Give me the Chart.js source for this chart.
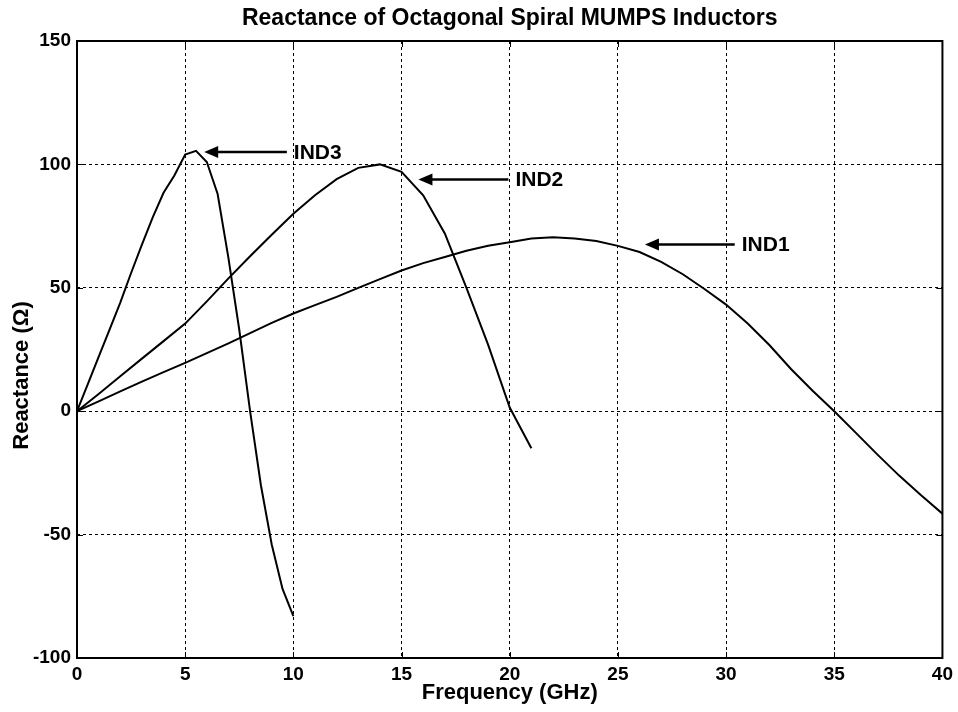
<!DOCTYPE html>
<html>
<head>
<meta charset="utf-8">
<script src="https://cdn.jsdelivr.net/npm/chart.js@4/dist/chart.umd.min.js"></script>
<style>
  html, body { margin: 0; padding: 0; background: #fff; }
  #wrap { width: 958px; height: 712px; }
</style>
</head>
<body>
<div id="wrap"><canvas id="c" width="958" height="712"></canvas></div>
<script>
// Frequency sweeps (GHz) and reactance (ohm) for each inductor
const freqIND1 = [0,1,2,3,4,5,6,7,8,9,10,11,12,13,14,15,16,17,18,19,20,
                  21,22,23,24,25,26,27,28,29,30,31,32,33,34,35,36,37,38,39,40];
const reactIND1 = [0,4,8,12,15.8,19.6,23.5,27.5,31.6,35.8,39.6,43,46.3,50,53.5,57,60,62.5,65,67,68.5,
                   70,70.5,70,69,67,64.5,60.5,55.5,49.5,43.2,35.5,26.8,17.1,8.3,0,-8.8,-17.6,-26.1,-34,-41.5];

const freqIND2 = [0,1,2,3,4,5,6,7,8,9,10,11,12,13,14,15,16,17,18,19,20,21];
const reactIND2 = [0,7,14.2,21.3,28.4,35.5,44.5,53.8,62.8,71.5,80,87.5,94,98.6,100,97,87.5,72,50,27,1.5,-15];

const freqIND3 = [0,0.5,1,1.5,2,2.5,3,3.5,4,4.5,5,5.5,6,6.5,7,7.5,8,8.5,9,9.5,10];
const reactIND3 = [0,11,22,33,44,56,67.5,78.5,88.5,95.5,104,105.5,101,88,62,33,0,-30,-54,-72,-83];

const xTicks = [0,5,10,15,20,25,30,35,40];
const yTicks = [-100,-50,0,50,100,150];

const yAxisLabel = 'Reactance (Ω)';

// Arrow callouts: label, arrow tip (x,y) and tail x, in data units
const calloutNames = ['IND3','IND2','IND1'];
const calloutTipX  = [5.88, 15.78, 26.25];
const calloutTipY  = [105, 93.9, 67.5];
const calloutTailX = [9.7, 19.94, 30.4];

const FONT = '"Liberation Sans", Arial, Helvetica, sans-serif';

function pts(xs, ys) { return xs.map((x, i) => ({ x: x, y: ys[i] })); }

const lineStyle = { borderColor: '#000', borderWidth: 2, pointRadius: 0, fill: false, tension: 0 };

// Box around the axes, inward tick marks, y-axis label and arrow callouts
const decor = {
  id: 'decor',
  afterDatasetsDraw(chart) {
    const ctx = chart.ctx, a = chart.chartArea;
    const xs = chart.scales.x, ys = chart.scales.y;
    ctx.save();
    ctx.strokeStyle = '#000';
    ctx.lineWidth = 1;
    ctx.setLineDash([]);
    // inward ticks
    ctx.beginPath();
    xTicks.forEach(v => {
      const px = Math.round(xs.getPixelForValue(v)) + 0.5;
      ctx.moveTo(px, a.bottom); ctx.lineTo(px, a.bottom - 6);
      ctx.moveTo(px, a.top); ctx.lineTo(px, a.top + 6);
    });
    yTicks.forEach(v => {
      const py = Math.round(ys.getPixelForValue(v)) + 0.5;
      ctx.moveTo(a.left, py); ctx.lineTo(a.left + 6, py);
      ctx.moveTo(a.right, py); ctx.lineTo(a.right - 6, py);
    });
    ctx.stroke();
    // frame
    ctx.lineWidth = 2;
    ctx.strokeRect(a.left, a.top, a.right - a.left, a.bottom - a.top);

    // y-axis label, rotated, sitting a little below the axis midpoint
    ctx.fillStyle = '#000';
    ctx.save();
    ctx.translate(22, (a.top + a.bottom) / 2 + 26);
    ctx.rotate(-Math.PI / 2);
    ctx.font = 'bold 22px ' + FONT;
    ctx.textAlign = 'center';
    ctx.textBaseline = 'middle';
    ctx.fillText(yAxisLabel, 0, 0);
    ctx.restore();

    // callouts
    ctx.font = 'bold 21px ' + FONT;
    ctx.textBaseline = 'middle';
    ctx.textAlign = 'left';
    calloutNames.forEach((name, i) => {
      const tx = xs.getPixelForValue(calloutTipX[i]);
      const ty = ys.getPixelForValue(calloutTipY[i]);
      const ex = xs.getPixelForValue(calloutTailX[i]);
      ctx.lineWidth = 2.5;
      ctx.beginPath();
      ctx.moveTo(tx + 10, ty); ctx.lineTo(ex, ty);
      ctx.stroke();
      ctx.beginPath();
      ctx.moveTo(tx, ty);
      ctx.lineTo(tx + 14, ty - 6);
      ctx.lineTo(tx + 14, ty + 6);
      ctx.closePath();
      ctx.fill();
      ctx.fillText(name, ex + 7, ty + 1);
    });
    ctx.restore();
  }
};

new Chart(document.getElementById('c'), {
  type: 'line',
  data: {
    datasets: [
      Object.assign({ label: 'IND1', data: pts(freqIND1, reactIND1) }, lineStyle),
      Object.assign({ label: 'IND2', data: pts(freqIND2, reactIND2) }, lineStyle),
      Object.assign({ label: 'IND3', data: pts(freqIND3, reactIND3) }, lineStyle)
    ]
  },
  options: {
    responsive: false,
    animation: false,
    layout: { padding: { left: 0, right: 15, top: 0, bottom: 0 } },
    plugins: {
      legend: { display: false },
      tooltip: { enabled: false },
      title: {
        display: true,
        fullSize: false,
        text: 'Reactance of Octagonal Spiral MUMPS Inductors',
        color: '#000',
        font: { family: FONT, size: 23, weight: 'bold', lineHeight: 1.2 },
        padding: { top: 5, bottom: 8.4 }
      }
    },
    scales: {
      x: {
        type: 'linear',
        min: 0, max: 40,
        afterBuildTicks: s => { s.ticks = xTicks.map(v => ({ value: v })); },
        afterFit: s => { s.height = 54; },
        ticks: { color: '#000', font: { family: FONT, size: 19, weight: 'bold' }, padding: 5, maxRotation: 0 },
        grid: { color: '#000', lineWidth: 1, drawTicks: false },
        border: { display: false, dash: [3, 3] },
        title: {
          display: true, text: 'Frequency (GHz)', color: '#000',
          font: { family: FONT, size: 22, weight: 'bold', lineHeight: 1.2 }, padding: { top: 0, bottom: 6 }
        }
      },
      y: {
        type: 'linear',
        min: -100, max: 150,
        afterBuildTicks: s => { s.ticks = yTicks.map(v => ({ value: v })); },
        afterFit: s => { s.width = 77; },
        ticks: { color: '#000', font: { family: FONT, size: 19, weight: 'bold' }, padding: 6 },
        grid: { color: '#000', lineWidth: 1, drawTicks: false },
        border: { display: false, dash: [3, 3] },
        title: { display: false }
      }
    }
  },
  plugins: [decor]
});
</script>
</body>
</html>
